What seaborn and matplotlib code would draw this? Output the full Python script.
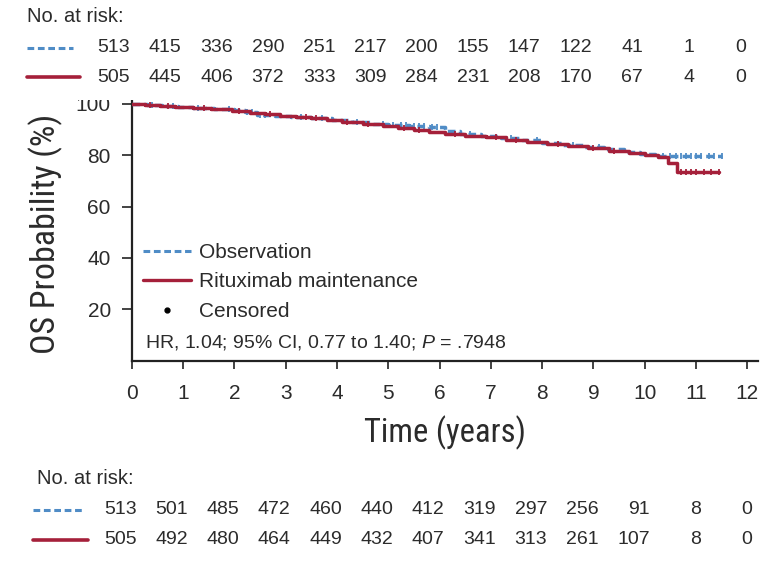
import numpy as np
import pandas as pd
import matplotlib
matplotlib.use("Agg")
import matplotlib.pyplot as plt
import matplotlib.transforms as mtransforms
from matplotlib.lines import Line2D
from matplotlib.patches import Rectangle
from matplotlib import font_manager
import seaborn as sns

# ---------------- data ----------------
arm_names = ["Observation", "Rituximab maintenance"]

obs_time = [0, 0.3, 0.6, 0.9, 1.2, 1.6, 2.0, 2.2, 2.45, 2.8, 3.1, 3.5, 3.9, 4.3, 4.7,
            5.0, 5.4, 5.8, 6.1, 6.4, 6.8, 7.2, 7.6, 8.0, 8.4, 8.8, 9.2, 9.6, 9.9, 10.2, 11.5]
obs_surv = [100, 99.6, 99.2, 98.8, 98.5, 98.1, 97.5, 96.6, 95.8, 95.3, 95.0, 94.6, 93.6, 92.8, 92.2,
            91.8, 91.4, 90.9, 89.3, 88.3, 87.6, 86.8, 85.8, 84.9, 84.0, 83.3, 82.3, 81.3, 80.6, 79.8, 79.8]

rit_time = [0, 0.25, 0.55, 0.85, 1.2, 1.55, 1.95, 2.3, 2.6, 2.9, 3.2, 3.5, 3.8, 4.1, 4.5, 4.9,
            5.2, 5.5, 5.8, 6.1, 6.5, 6.9, 7.3, 7.7, 8.1, 8.5, 8.9, 9.3, 9.7, 10.0, 10.25, 10.45, 10.62, 11.45]
rit_surv = [100, 99.5, 99.1, 98.6, 98.3, 98.0, 97.3, 96.5, 96.0, 95.3, 94.9, 94.5, 93.8, 93.0, 92.3, 91.5,
            90.6, 89.8, 89.0, 88.3, 87.6, 86.9, 86.0, 85.1, 84.3, 83.6, 82.8, 81.8, 80.8, 80.2, 79.4, 77.0, 73.4, 73.4]

obs_cens = [0.4, 0.8, 1.3, 1.9, 2.25, 2.35, 2.5, 2.6, 3.3, 3.7, 4.4, 4.9, 5.1, 5.25, 5.35, 5.5,
            5.6, 5.7, 5.85, 5.95, 6.6, 7.4, 7.9, 8.6, 9.1, 10.35, 10.5, 10.6, 10.7, 10.8, 10.9,
            11.0, 11.1, 11.25, 11.35, 11.5]
rit_cens = [0.35, 0.7, 1.4, 2.1, 2.7, 3.4, 3.6, 4.2, 4.6, 5.3, 5.6, 6.3, 7.1, 7.5, 8.3, 9.0,
            9.4, 10.7, 10.8, 10.9, 11.0, 11.15, 11.3, 11.45]

risk_times = list(range(13))
risk_top_obs = [513, 415, 336, 290, 251, 217, 200, 155, 147, 122, 41, 1, 0]
risk_top_rit = [505, 445, 406, 372, 333, 309, 284, 231, 208, 170, 67, 4, 0]
risk_bot_obs = [513, 501, 485, 472, 460, 440, 412, 319, 297, 256, 91, 8, 0]
risk_bot_rit = [505, 492, 480, 464, 449, 432, 407, 341, 313, 261, 107, 8, 0]

x_ticks = list(range(13))
y_ticks = [20, 40, 60, 80, 100]
hr_text = "HR, 1.04; 95% CI, 0.77 to 1.40; $P$ = .7948"

# ---------------- style ----------------
sns.set_theme(style="ticks")
base = "Liberation Sans"
def has_font(name):
    try:
        font_manager.findfont(name, fallback_to_default=False)
        return True
    except Exception:
        return False
narrow, narrow_scale = base, 0.9
for cand in ["Liberation Sans Narrow", "Roboto Condensed", "Open Sans Condensed"]:
    if has_font(cand):
        narrow, narrow_scale = cand, 1.0
        break

plt.rcParams["font.family"] = [base, "DejaVu Sans"]
plt.rcParams["mathtext.fontset"] = "custom"
plt.rcParams["mathtext.rm"] = base
plt.rcParams["mathtext.it"] = base + ":italic"

BLUE = "#4f8cc6"
RED = "#a5203a"
TXT = "#2b2b2b"

W, H = 767, 562
fig = plt.figure(figsize=(W / 100, H / 100), dpi=100)
fig.patch.set_facecolor("white")

ax_l, ax_r, ax_b, ax_t = 131.7, 757.6, 360.7, 98.6
ax = fig.add_axes([ax_l / W, 1 - ax_b / H, (ax_r - ax_l) / W, (ax_b - ax_t) / H])
ax.set_facecolor("white")

def step_value(times, surv, t):
    idx = np.searchsorted(np.asarray(times), np.asarray(t), side="right") - 1
    return np.asarray(surv)[np.clip(idx, 0, len(surv) - 1)]

df_obs = pd.DataFrame({"time": obs_time, "surv": obs_surv})
df_rit = pd.DataFrame({"time": rit_time, "surv": rit_surv})

sns.lineplot(data=df_obs, x="time", y="surv", ax=ax, color=BLUE, lw=2.5,
             linestyle=(0, (2.2, 1.2)), drawstyle="steps-post", estimator=None, sort=False, zorder=3)
sns.lineplot(data=df_rit, x="time", y="surv", ax=ax, color=RED, lw=2.5,
             drawstyle="steps-post", estimator=None, sort=False, zorder=4)

cens_obs = pd.DataFrame({"time": obs_cens, "surv": step_value(obs_time, obs_surv, obs_cens)})
cens_rit = pd.DataFrame({"time": rit_cens, "surv": step_value(rit_time, rit_surv, rit_cens)})
ax.plot(cens_obs["time"], cens_obs["surv"], ls="none", marker="|", ms=5, mew=1.3, color=BLUE, zorder=3.5)
ax.plot(cens_rit["time"], cens_rit["surv"], ls="none", marker="|", ms=5, mew=1.3, color=RED, zorder=4.5)

ax.set_xlim(0, 12.2)
ax.set_ylim(0, 102)
ax.set_xticks(x_ticks)
ax.set_yticks(y_ticks)
ax.set_xticklabels([str(v) for v in x_ticks])
ax.set_yticklabels([str(v) for v in y_ticks])
for s in ["top", "right"]:
    ax.spines[s].set_visible(False)
for s in ["left", "bottom"]:
    ax.spines[s].set_linewidth(1.6)
    ax.spines[s].set_color("#222222")
ax.tick_params(axis="both", direction="out", width=1.2, color="#222222",
               labelsize=15, labelcolor=TXT)
ax.tick_params(axis="y", length=7, pad=8)
ax.tick_params(axis="x", length=6, pad=10.5)
ax.grid(False)

ax.set_xlabel("Time (years)", fontsize=23.5 * narrow_scale, family=[narrow, "DejaVu Sans"], color=TXT)
ax.set_ylabel("OS Probability (%)", fontsize=24.5 * narrow_scale, family=[narrow, "DejaVu Sans"], color=TXT)
ax.xaxis.label.set_va("center")
ax.yaxis.label.set_va("center")
ax.xaxis.set_label_coords(0.5, (ax_b - 433) / (ax_b - ax_t))
ax.yaxis.set_label_coords((46 - ax_l) / (ax_r - ax_l), (ax_b - 233.5) / (ax_b - ax_t))

# legend
handles = [Line2D([], [], color=BLUE, lw=2.2, linestyle=(0, (2.2, 1.2))),
           Line2D([], [], color=RED, lw=2.4),
           Line2D([], [], color="black", ls="none", marker=".", ms=7)]
labels = arm_names + ["Censored"]
leg = ax.legend(handles, labels, loc="upper left",
                bbox_to_anchor=((143 - ax_l) / (ax_r - ax_l), (ax_b - 243) / (ax_b - ax_t)),
                frameon=False, fontsize=15, handlelength=2.3, handletextpad=0.4,
                borderpad=0, borderaxespad=0, labelspacing=0.5)
for t in leg.get_texts():
    t.set_color(TXT)

ax.text((145 - ax_l) / (ax_r - ax_l), (ax_b - 342) / (ax_b - ax_t), hr_text,
        transform=ax.transAxes, fontsize=14, color=TXT, ha="left", va="center")

# white band above the axes (risk table area)
fig.patches.append(Rectangle((0, 1 - 100 / H), 1, 100 / H, transform=fig.transFigure,
                             facecolor="white", edgecolor="none", zorder=5))

def fy(py):
    return 1 - py / H

def risk_table(title_x, title_y, row_y, line_x, counts_list, dx_px):
    fig.text(title_x / W, fy(title_y), "No. at risk:", fontsize=14.5, color=TXT,
             ha="left", va="center", zorder=6)
    trans = mtransforms.blended_transform_factory(ax.transData, fig.transFigure) + \
        mtransforms.ScaledTranslation(dx_px / 100, 0, fig.dpi_scale_trans)
    styles = [dict(color=BLUE, lw=2.2, linestyle=(0, (2.2, 1.2))), dict(color=RED, lw=2.6)]
    for (x0, x1), y, counts, st in zip(line_x, row_y, counts_list, styles):
        fig.add_artist(Line2D([x0 / W, x1 / W], [fy(y), fy(y)], transform=fig.transFigure,
                              zorder=6, **st))
        for t, n in zip(risk_times, counts):
            fig.text(t, fy(y), str(n), transform=trans, fontsize=14, color=TXT,
                     ha="right", va="center", zorder=6)

risk_table(27, 17, [47.5, 77], [(27, 73), (27, 80)], [risk_top_obs, risk_top_rit], -1.5)
risk_table(37, 478, [509.5, 539.5], [(33, 83), (33, 88)], [risk_bot_obs, risk_bot_rit], 5)

fig.savefig("out.png", dpi=100, facecolor="white")
